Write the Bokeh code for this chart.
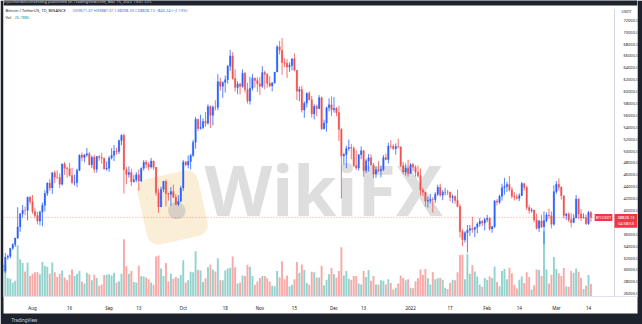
import pandas as pd
import numpy as np
from bokeh.plotting import figure
from bokeh.models import (ColumnDataSource, Range1d, LinearAxis, FixedTicker,
                          NumeralTickFormatter, Label, Span, BoxAnnotation, Title)
from bokeh.embed import file_html
from bokeh.resources import INLINE

# ---------------- data (BTCUSDT daily) ----------------
start_date = "2021-07-20"

open_ = [
    30838, 29791, 32144, 32287, 33634, 34258, 35381, 37237, 39457, 40019, 40016, 42207,
    41461, 39846, 39147, 38207, 39723, 40862, 42836, 44614, 43792, 46330, 45595, 45555, 44428, 47833, 47109, 47015,
    45902, 44695, 44705, 46760, 49339, 48905, 49321, 49546, 47706, 48960, 46942, 49058, 48897, 48767, 46970,
    47100, 48810, 49246, 49999, 49915, 51756, 52663, 46864, 46049, 46395, 44851, 45173, 46026, 44941, 47111,
    48122, 47737, 47299, 48314, 47250, 42961, 40588, 43579, 44895, 42839, 42716, 43208, 42235, 41034, 41564,
    43790, 48165, 47657, 48233, 49245, 51493, 55339, 53797, 53963, 54963, 54691, 57485, 56006, 57367, 57347,
    61672, 60875, 61528, 62009, 64280, 66002, 62193, 60688, 61286, 60852, 63078, 60328, 58413, 60575, 62253, 61859,
    61299, 60911, 63219, 62897, 61395, 60937, 61470, 63273, 67525, 66947, 64882, 64774, 64122, 64380, 65519,
    63606, 60058, 60344, 56891, 58052, 59707, 58622, 56247, 57541, 57138, 58960, 53727, 54721, 57274, 57776,
    56950, 57185, 56480, 53602, 49152, 49397, 50442, 50589, 50471, 47545, 47140, 49389, 50053, 46702, 48343,
    48864, 47632, 46131, 46834, 46681, 46914, 48890, 48588, 50838, 50820, 50399, 50775, 50701, 47543, 46464, 47120,
    46216, 47722, 47286, 46446, 45832, 43451, 43082, 41566, 41680, 41864, 41822, 42729, 43902, 42561, 43059,
    43084, 43071, 42201, 42352, 41660, 40680, 36445, 35071, 36244, 36660, 36958, 36810, 37160, 37717, 38166, 37881,
    38466, 38690, 36896, 37311, 41575, 41382, 42380, 43840, 44043, 44372, 43495, 42373, 42217, 42053,
    42535, 44544, 43873, 40515, 39974, 40079, 38386, 37008, 38230, 37250, 38328, 39219, 39116, 37699,
    43160, 44421, 43892, 42455, 39148, 39397, 38420, 37988, 38730, 41941, 39422, 38730, 38808, 37777, 39671,
]
high_ = [
    31063, 32858, 32591, 33650, 34500, 35398, 40550, 39542, 40900, 40640, 42316, 42448,
    42599, 40459, 39780, 39969, 41350, 43392, 44700, 45310, 46454, 46700, 46743, 46218, 47886, 48144, 47372, 47998,
    47160, 46000, 47033, 49382, 49757, 49500, 50500, 49875, 49240, 49358, 49150, 49309, 49658, 48909, 48246,
    49156, 50450, 51000, 50558, 51900, 52780, 52920, 47340, 47399, 47033, 45987, 46460, 46880, 47250, 48500,
    48488, 48145, 48843, 48372, 47328, 43639, 44000, 44978, 45200, 42970, 43950, 44350, 42787, 42590, 44132,
    48495, 48336, 49228, 49536, 51886, 55750, 55400, 56100, 55489, 56561, 57839, 57680, 57700, 58532, 62933,
    62350, 61720, 62700, 64486, 67000, 66639, 63732, 61747, 61500, 63710, 63293, 61497, 62499, 62980, 62359, 62405,
    62437, 64270, 63500, 63086, 62595, 61560, 63286, 67789, 68524, 69000, 65600, 65450, 64915, 65550, 66401,
    63617, 60840, 60977, 58373, 59845, 60029, 59266, 57875, 57800, 59398, 59150, 55281, 57445, 58865, 59176,
    59053, 57387, 57600, 53859, 49699, 50891, 51936, 51200, 50797, 50125, 49485, 50777, 50189, 48700, 49500,
    49436, 47995, 47392, 48300, 47537, 49328, 49576, 51375, 51810, 51156, 51280, 52088, 50704, 48139, 47900, 48548,
    47954, 47990, 47570, 47557, 47070, 43816, 43145, 42300, 42786, 42248, 43100, 44322, 44500, 43448, 43800,
    43475, 43176, 42691, 42559, 43505, 41100, 36835, 36499, 37550, 37545, 38919, 37234, 38000, 38720, 38359, 38744,
    39265, 38855, 37387, 41772, 41913, 42656, 44500, 45492, 44799, 45821, 43920, 43079, 42760, 42876,
    44769, 44582, 44164, 40959, 40444, 40125, 39494, 38429, 39249, 39843, 39683, 40300, 39855, 44226,
    44950, 45400, 44101, 42527, 39613, 39693, 39547, 39362, 42594, 42039, 40236, 39486, 39310, 39924, 39887,
]
low_ = [
    29278, 29482, 31708, 31925, 33401, 33851, 35205, 36383, 38772, 39200, 38314, 41000,
    39422, 38690, 37642, 37508, 37332, 39853, 42446, 43261, 42779, 44600, 45341, 43771, 44217, 45971, 45500, 45700,
    44376, 44203, 43927, 46630, 48300, 48085, 49035, 47600, 47136, 46315, 46369, 48371, 47900, 46853, 46700,
    46513, 48584, 48316, 49400, 49500, 50969, 42843, 44412, 45513, 44132, 44722, 44742, 43370, 44750, 46700,
    47079, 46750, 47033, 46829, 42500, 39600, 40565, 43069, 40675, 41646, 40800, 42098, 40888, 40753, 41410,
    43283, 47430, 47088, 46891, 49022, 50382, 53357, 53617, 53661, 54080, 54415, 53879, 54300, 56818, 56850,
    60150, 58963, 59844, 61322, 63482, 62000, 60000, 59562, 59510, 60650, 59817, 58000, 57820, 60174, 60673, 59945,
    59405, 60624, 60382, 60677, 60721, 60050, 61322, 63273, 66222, 62822, 64100, 62278, 63303, 63576, 63400,
    58574, 58373, 56474, 55600, 57353, 58486, 55610, 55318, 55837, 57000, 53500, 53610, 53256, 56666, 55875,
    56458, 55838, 51680, 42000, 47727, 47100, 50039, 48600, 47320, 46852, 46751, 48638, 45672, 46290, 46547,
    47511, 45456, 45500, 46406, 45558, 46630, 48421, 47920, 50391, 50142, 49412, 50449, 47313, 46096, 45900, 45678,
    46208, 46654, 45696, 45500, 42500, 42430, 40610, 40501, 41200, 39650, 41268, 42450, 42311, 41725, 42555,
    42581, 41540, 41250, 41138, 40553, 35440, 34009, 34601, 32917, 35701, 36234, 35507, 36155, 37268, 37351, 36633,
    38000, 36586, 36250, 37026, 40843, 41116, 41645, 42666, 43117, 43174, 42000, 41688, 41870, 41571,
    42428, 43310, 40073, 39450, 39639, 38000, 36800, 36350, 37036, 34322, 38014, 38600, 37000, 37450,
    42809, 43334, 41832, 38650, 38407, 38088, 37155, 37867, 38656, 38539, 38223, 38660, 37578, 37578, 38098,
]
close_ = [
    29791, 32144, 32287, 33634, 34258, 35381, 37237, 39457, 40019, 40016, 42207, 41461,
    39846, 39147, 38207, 39723, 40862, 42836, 44614, 43792, 46330, 45595, 45555, 44428, 47833, 47109, 47015, 45902,
    44695, 44705, 46760, 49339, 48905, 49321, 49546, 47706, 48960, 46942, 49058, 48897, 48767, 46970, 47100,
    48810, 49246, 49999, 49915, 51756, 52663, 46864, 46049, 46395, 44851, 45173, 46026, 44941, 47111, 48122,
    47737, 47299, 48314, 47250, 42961, 40588, 43579, 44895, 42839, 42716, 43208, 42235, 41034, 41564, 43790,
    48165, 47657, 48233, 49245, 51493, 55339, 53797, 53963, 54963, 54691, 57485, 56006, 57367, 57347, 61672,
    60875, 61528, 62009, 64280, 66002, 62193, 60688, 61286, 60852, 63078, 60328, 58413, 60575, 62253, 61859, 61299,
    60911, 63219, 62897, 61395, 60937, 61470, 63273, 67525, 66947, 64882, 64774, 64122, 64380, 65519, 63606,
    60058, 60344, 56891, 58052, 59707, 58622, 56247, 57541, 57138, 58960, 53727, 54721, 57274, 57776, 56950,
    57185, 56480, 53602, 49152, 49397, 50442, 50589, 50471, 47545, 47140, 49389, 50053, 46702, 48343, 48864,
    47632, 46131, 46834, 46681, 46914, 48890, 48588, 50838, 50820, 50399, 50775, 50701, 47543, 46464, 47120, 46216,
    47722, 47286, 46446, 45832, 43451, 43082, 41566, 41680, 41864, 41822, 42729, 43902, 42561, 43059, 43084,
    43071, 42201, 42352, 41660, 40680, 36445, 35071, 36244, 36660, 36958, 36810, 37160, 37717, 38166, 37881, 38466,
    38690, 36896, 37311, 41575, 41382, 42380, 43840, 44043, 44372, 43495, 42373, 42217, 42053, 42535,
    44544, 43873, 40515, 39974, 40079, 38386, 37008, 38230, 37250, 38328, 39219, 39116, 37699, 43160,
    44421, 43892, 42455, 39148, 39397, 38420, 37988, 38730, 41941, 39422, 38730, 38808, 37777, 39671, 38828.13,
]
volume_k = [
    53, 68, 40, 38, 30, 34, 110, 80, 72, 54, 73, 44,
    49, 52, 52, 48, 74, 66, 64, 49, 73, 52, 42, 49, 56, 41, 35, 47,
    58, 44, 49, 55, 32, 28, 51, 48, 35, 47, 40, 23, 26, 46, 47,
    48, 45, 51, 30, 33, 49, 123, 65, 49, 55, 31, 30, 66, 44, 43,
    41, 37, 30, 25, 86, 88, 60, 44, 72, 32, 49, 38, 42, 39, 46,
    78, 30, 35, 53, 52, 97, 57, 56, 31, 39, 63, 68, 58, 54, 82,
    35, 35, 56, 60, 62, 86, 63, 28, 30, 45, 44, 68, 64, 44, 25, 32,
    40, 44, 44, 39, 32, 23, 22, 55, 41, 76, 37, 45, 22, 25, 37,
    74, 51, 69, 57, 29, 25, 53, 52, 41, 41, 66, 24, 36, 48, 61,
    48, 41, 55, 106, 45, 55, 38, 36, 44, 44, 28, 26, 55, 42, 57,
    34, 44, 26, 26, 35, 34, 26, 37, 29, 15, 19, 28, 45, 40, 35, 37,
    19, 18, 33, 39, 58, 47, 59, 39, 26, 52, 37, 39, 40, 36, 19,
    16, 29, 36, 35, 52, 89, 90, 37, 91, 49, 67, 54, 43, 26, 21, 40,
    36, 43, 40, 64, 31, 22, 55, 59, 37, 62, 50, 25, 17, 36,
    43, 29, 52, 42, 15, 24, 58, 57, 44, 140, 58, 28, 47, 85,
    59, 50, 44, 61, 22, 21, 55, 51, 60, 53, 40, 16, 23, 46, 26.788,
]

tick_dates = ["2021-08-01", "2021-08-16", "2021-09-01", "2021-09-13", "2021-10-01", "2021-10-18",
              "2021-11-01", "2021-11-15", "2021-12-01", "2021-12-13", "2022-01-01", "2022-01-17",
              "2022-02-01", "2022-02-14", "2022-03-01", "2022-03-14"]
tick_labels = ["Aug", "16", "Sep", "13", "Oct", "18", "Nov", "15", "Dec", "13", "2022", "17",
               "Feb", "14", "Mar", "14"]
price_ticks = [72000, 70000, 68000, 66000, 64000, 62000, 60000, 58000, 56000, 54000, 52000, 50000,
               48000, 46000, 44000, 42000, 40000, 36000, 34000, 32000, 30000, 28000, 26000]

header_text = "cryochenbitcoinvesting published on TradingView.com, Mar 15, 2022 19:01 UTC"
symbol_text = "Bitcoin / TetherUS, 1D, BINANCE"
ohlc_text = "O39671.37 H39887.61 L38098.33 C38828.13 \u2212843.24 (\u22122.13%)"
vol_text = "26.788K"
countdown_text = "04:58:53"
currency_text = "USDT"
footer_text = "TradingView"

# ---------------- derived ----------------
n = len(close_)
dates = pd.date_range(start_date, periods=n, freq="D")
day0 = dates[0]
x = np.array([(d - day0).days for d in dates], dtype=float)
o = np.array(open_, float); h = np.array(high_, float)
l = np.array(low_, float); c = np.array(close_, float)
v = np.array(volume_k, float)
up = c >= o
UP, DOWN = "#2962ff", "#ef5350"
VUP, VDOWN = "#93d3cd", "#f7aaa8"
src = ColumnDataSource(dict(
    x=x, high=h, low=l, top=np.maximum(o, c), bottom=np.minimum(o, c),
    color=[UP if u else DOWN for u in up], vol=v,
    vcolor=[VUP if u else VDOWN for u in up]))
tick_days = [(pd.Timestamp(d) - day0).days for d in tick_dates]

# ---------------- geometry (canvas pixels -> data) ----------------
W, H = 642, 324
FL, FR, FT, FB = 3, 637, 0, 300      # plot frame in canvas px
DAY_PX = 2.471                        # px per day
DAY_AT_3 = 0.26                       # day value at canvas x = 3
PRICE_PX = 2000 / 12.05               # price per px
VOL_PX = 0.4715                       # px per 1K volume
def px_to_day(cx):
    return DAY_AT_3 + (cx - 3) / DAY_PX
def py_to_price(cy):
    return 72000 - (cy - 20) * PRICE_PX
def py_to_vol(cy):
    return (300 - cy) / VOL_PX
def sx(cx):
    return cx - FL
def sy(cy):
    return FB - cy

DARK = "#1e222d"
p = figure(width=W, height=H, output_backend="svg", toolbar_location=None,
           x_range=Range1d(px_to_day(FL), px_to_day(FR)),
           y_range=Range1d(py_to_price(FB), py_to_price(FT)),
           x_axis_location=None, y_axis_location=None,
           min_border_left=FL, min_border_right=W - FR, min_border_top=FT,
           min_border_bottom=H - FB,
           background_fill_color="white", border_fill_color=DARK, outline_line_color=None)
p.grid.visible = False
p.extra_y_ranges = {"vol": Range1d(py_to_vol(FB), py_to_vol(FT))}

# dark header strip (inside the frame)
p.add_layout(BoxAnnotation(left=sx(FL), right=sx(FR), top=sy(0), bottom=sy(9),
                           left_units="screen", right_units="screen",
                           top_units="screen", bottom_units="screen",
                           fill_color=DARK, fill_alpha=1, line_color=None, level="underlay"))

# watermark (behind the data)
p.add_layout(Label(x=sx(172), y=sy(211), x_units="screen", y_units="screen",
                   text="\u2003", text_font_size="44px", text_align="center",
                   text_baseline="middle", background_fill_color="#f5d9a4",
                   background_fill_alpha=0.45, padding=9, border_radius=12,
                   angle=0.22, level="underlay"))
p.add_layout(Label(x=sx(176), y=sy(211), x_units="screen", y_units="screen",
                   text="\u25cf", text_font_size="40px", text_align="center",
                   text_baseline="middle", text_color="#b5b5b5", text_alpha=0.5,
                   level="underlay"))
p.add_layout(Label(x=sx(204), y=sy(240), x_units="screen", y_units="screen",
                   text="WikiFX", text_font="Noto Sans", text_font_size="70px",
                   text_font_style="bold", text_color="#bdbdbd", text_alpha=0.5,
                   level="underlay"))

# x axis: regular axis below the frame, white band
xaxis = LinearAxis(ticker=FixedTicker(ticks=tick_days),
                   major_label_overrides={int(d): s for d, s in zip(tick_days, tick_labels)})
xaxis.major_tick_line_color = None
xaxis.minor_tick_line_color = None
xaxis.axis_line_color = "#e0e3eb"
xaxis.major_label_text_font = "Noto Sans"
xaxis.major_label_text_font_size = "4.5px"
xaxis.major_label_text_color = "#131722"
xaxis.major_label_standoff = 2
xaxis.background_fill_color = "white"
p.add_layout(xaxis, "below")

# footer
p.add_layout(Title(text=footer_text, align="left", offset=8, standoff=3,
                   text_font="Noto Sans", text_font_size="4.5px", text_font_style="normal",
                   text_color="#d1d4dc", background_fill_color=None), "below")

# price axis: drawn at a fixed location inside the frame
yaxis = LinearAxis(ticker=FixedTicker(ticks=price_ticks),
                   formatter=NumeralTickFormatter(format="0.00"),
                   fixed_location=px_to_day(614), bounds=(py_to_price(FB), py_to_price(9)))
yaxis.major_tick_line_color = None
yaxis.minor_tick_line_color = None
yaxis.axis_line_color = "#d1d4dc"
yaxis.major_label_text_font = "Noto Sans"
yaxis.major_label_text_font_size = "4px"
yaxis.major_label_text_color = "#131722"
yaxis.major_label_standoff = 3
p.add_layout(yaxis, "right")

# volume + candles
p.vbar(x="x", top="vol", bottom=0, width=0.78, fill_color="vcolor", line_color=None,
       y_range_name="vol", source=src)
p.segment(x0="x", y0="low", x1="x", y1="high", line_color="color", line_width=0.8, source=src)
p.vbar(x="x", top="top", bottom="bottom", width=0.62, fill_color="color",
       line_color="color", line_width=0.3, source=src)

last_close = close_[-1]
p.add_layout(Span(location=last_close, dimension="width", line_color=DOWN,
                  line_dash="1 2", line_width=0.8, line_alpha=0.7))

def lab(cx, cy, text, size="4px", color="#131722", **kw):
    p.add_layout(Label(x=sx(cx), y=sy(cy), x_units="screen", y_units="screen",
                       text=text, text_font="Noto Sans", text_font_size=size,
                       text_color=color, text_baseline=kw.pop("baseline", "middle"), **kw))

# header bar text
lab(3, 4.5, header_text, color="#d1d4dc")
# legend lines
lab(5, 14, symbol_text)
lab(72, 14, ohlc_text, color="#4a6fe0")
lab(5, 20.5, "Vol")
lab(14, 20.5, vol_text, color="#26a69a")
# price scale currency
lab(626, 15, currency_text, text_align="center")

# current price tags
p.add_layout(Label(x=sx(603), y=last_close, x_units="screen", y_units="data",
                   text="BTCUSDT", text_font="Noto Sans", text_font_size="3.6px",
                   text_color="white", text_align="center", text_baseline="middle",
                   background_fill_color="#f23645", padding=1))
p.add_layout(BoxAnnotation(left=sx(614), right=sx(637),
                           top=last_close + 3.5 * PRICE_PX, bottom=last_close - 10.5 * PRICE_PX,
                           left_units="screen", right_units="screen",
                           fill_color="#f23645", fill_alpha=1, line_color=None))
p.add_layout(Label(x=sx(625.5), y=last_close, x_units="screen", y_units="data",
                   text=f"{last_close:.2f}", text_font="Noto Sans", text_font_size="4px",
                   text_color="white", text_align="center", text_baseline="middle"))
p.add_layout(Label(x=sx(625.5), y=last_close - 6.5 * PRICE_PX, x_units="screen", y_units="data",
                   text=countdown_text, text_font="Noto Sans", text_font_size="4px",
                   text_color="white", text_align="center", text_baseline="middle"))

open("out.html", "w").write(file_html(p, INLINE))
